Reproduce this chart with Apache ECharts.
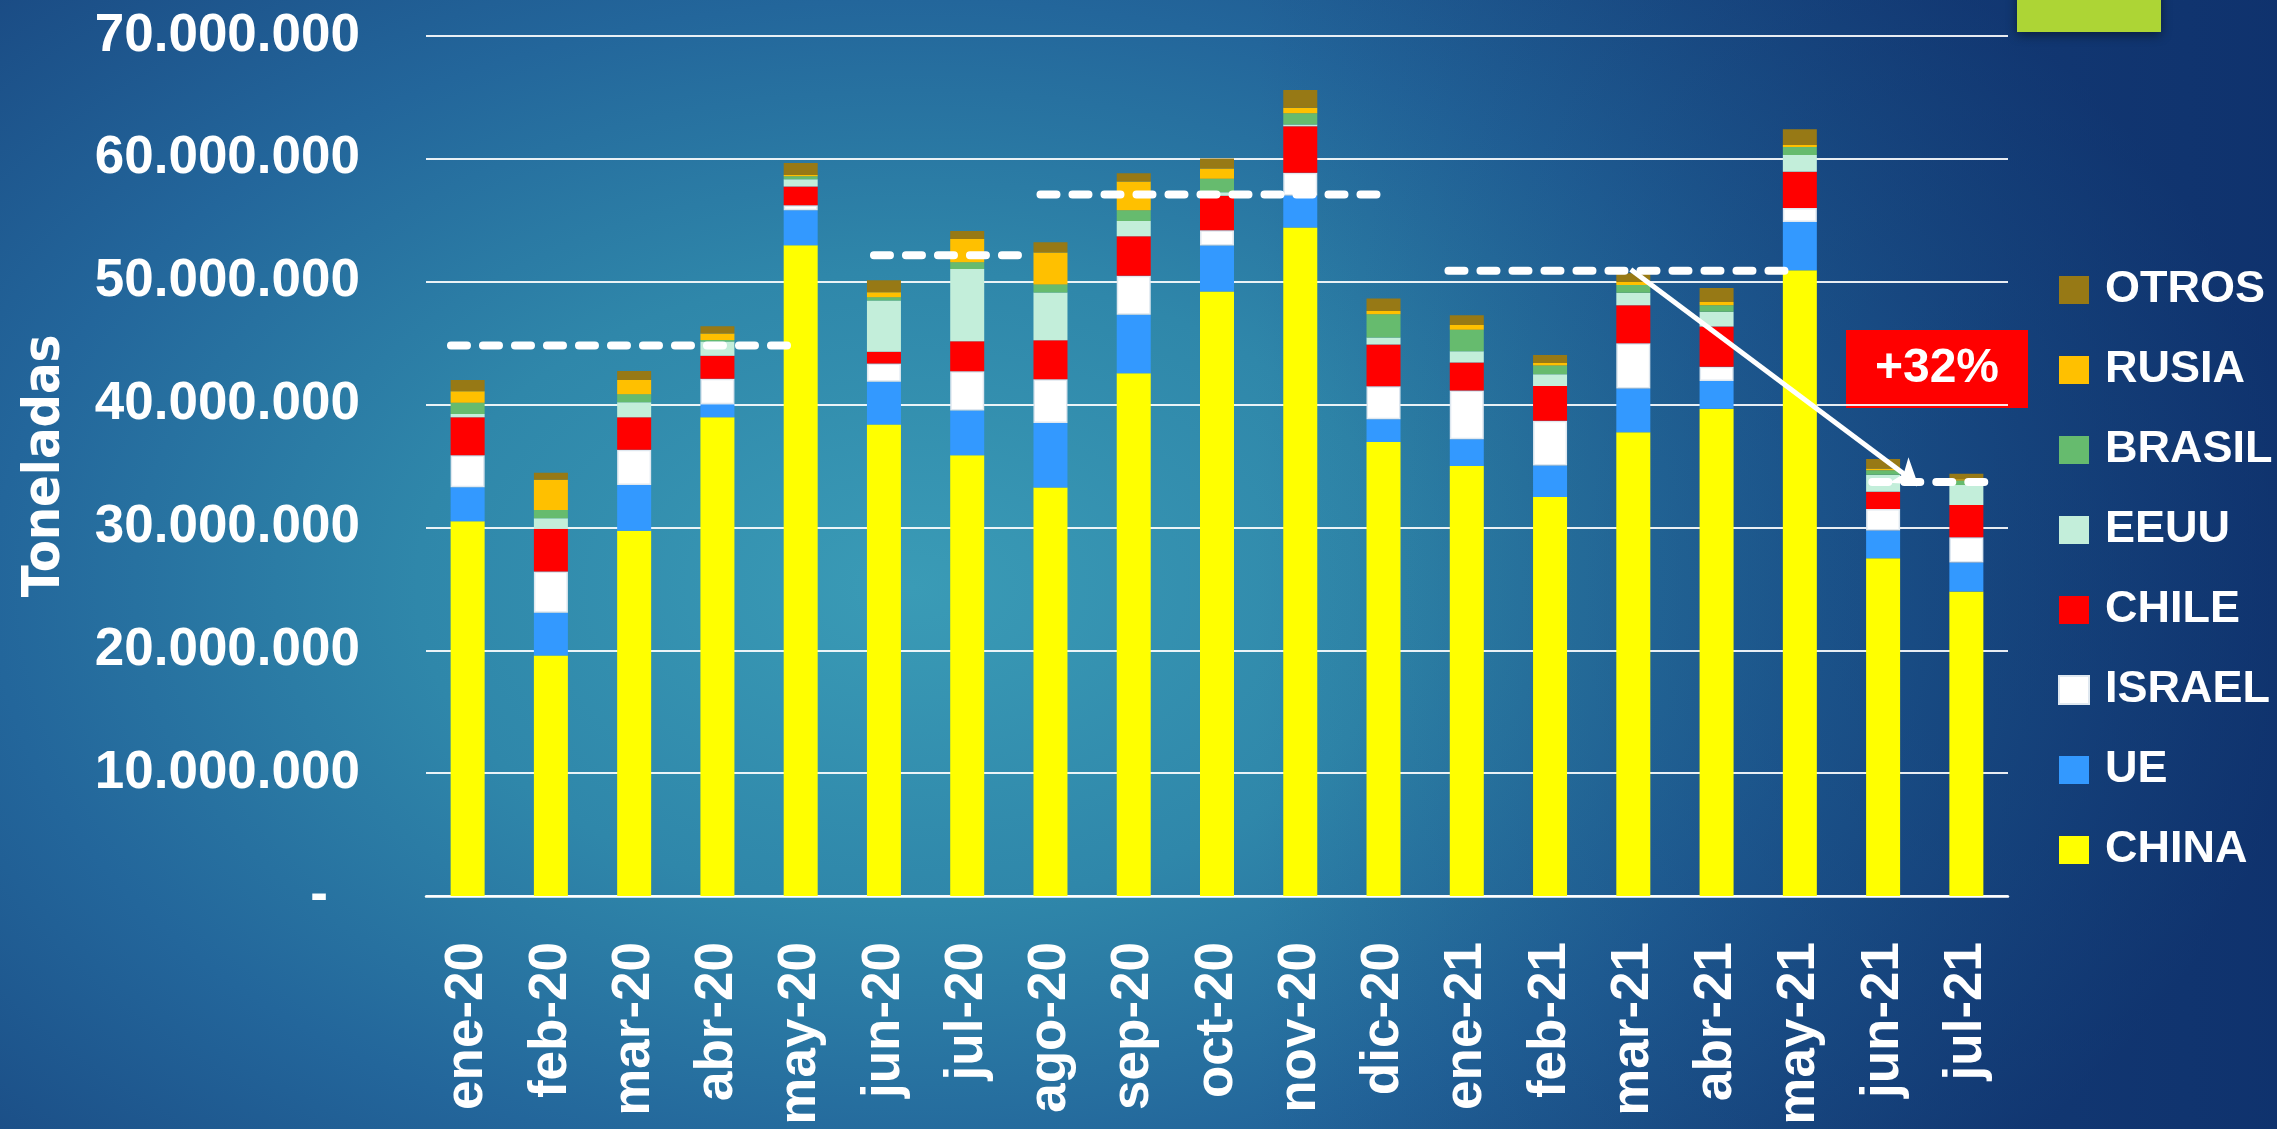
<!DOCTYPE html>
<html>
<head>
<meta charset="utf-8">
<script src="https://cdn.jsdelivr.net/npm/echarts@6/dist/echarts.min.js"></script>
<style>
  html, body { margin: 0; padding: 0; }
  #chart {
    width: 2277px;
    height: 1129px;
    background:
      linear-gradient(to right, rgba(8, 36, 96, 0) 55%, rgba(8, 36, 96, 0.55) 100%),
      radial-gradient(ellipse 62% 80% at 40% 52%, #3a9bb6 0%, #2f87aa 35%, #23669b 65%, #18447e 100%);
  }
</style>
</head>
<body>
<div id="chart"></div>
<script>
const meses = ['ene-20', 'feb-20', 'mar-20', 'abr-20', 'may-20', 'jun-20', 'jul-20', 'ago-20', 'sep-20', 'oct-20',
  'nov-20', 'dic-20', 'ene-21', 'feb-21', 'mar-21', 'abr-21', 'may-21', 'jun-21', 'jul-21']

// toneladas por destino
const china = [30500000, 19570000, 29720000, 38970000, 52970000, 38380000, 35880000, 33240000, 42550000, 49210000,
  54410000, 36950000, 35000000, 32470000, 37740000, 39670000, 50940000, 27500000, 24780000]
const ue = [2770000, 3480000, 3740000, 1050000, 2850000, 3470000, 3640000, 5250000, 4760000, 3740000,
  2600000, 1850000, 2170000, 2580000, 3560000, 2250000, 3930000, 2250000, 2360000]
const israel = [2610000, 3370000, 2860000, 2090000, 400000, 1490000, 3200000, 3570000, 3180000, 1240000,
  1860000, 2690000, 3970000, 3640000, 3700000, 1160000, 1140000, 1750000, 2060000]
const chile = [3090000, 3480000, 2650000, 1870000, 1520000, 950000, 2440000, 3180000, 3220000, 2810000,
  3790000, 3390000, 2290000, 2830000, 3090000, 3280000, 2950000, 1410000, 2620000]
const eeuu = [270000, 850000, 1210000, 1150000, 600000, 4180000, 5880000, 3880000, 1230000, 280000,
  130000, 580000, 920000, 940000, 1020000, 1190000, 1360000, 1380000, 1640000]
const brasil = [910000, 660000, 660000, 120000, 240000, 270000, 550000, 660000, 880000, 1100000,
  930000, 1900000, 1730000, 730000, 620000, 540000, 650000, 360000, 360000]
const rusia = [930000, 2480000, 1150000, 530000, 110000, 410000, 1890000, 2600000, 2340000, 840000,
  440000, 260000, 400000, 190000, 250000, 260000, 160000, 150000, 110000]
const otros = [910000, 560000, 740000, 600000, 980000, 970000, 650000, 840000, 660000, 800000,
  1450000, 1010000, 790000, 650000, 700000, 1130000, 1280000, 760000, 430000]

// promedios por periodo (líneas punteadas): [desde, hasta, nivel]
const promedios = [
  [-0.2, 3.93, 44800000],
  [4.88, 6.7, 52150000],
  [6.88, 11.0, 57100000],
  [11.78, 15.91, 50900000],
  [16.87, 18.23, 33700000]
]
const flecha = [[13.97, 51000000], [17.42, 33500000]]
const variacion = '+32%'

const font = '"Liberation Sans", Arial, sans-serif'

const destinos = [
  { name: 'CHINA', data: china, color: '#FFFF00' },
  { name: 'UE', data: ue, color: '#3399FF' },
  { name: 'ISRAEL', data: israel, color: '#FFFFFF' },
  { name: 'CHILE', data: chile, color: '#FF0000' },
  { name: 'EEUU', data: eeuu, color: '#C3EEDA' },
  { name: 'BRASIL', data: brasil, color: '#66BB6E' },
  { name: 'RUSIA', data: rusia, color: '#FFC000' },
  { name: 'OTROS', data: otros, color: '#977915' }
]

function miles(v) {
  return String(v).replace(/\B(?=(\d{3})+(?!\d))/g, '.')
}

const chart = echarts.init(document.getElementById('chart'))

const barras = destinos.map((d) => ({
  name: d.name,
  type: 'bar',
  stack: 'total',
  barWidth: 34,
  data: d.data,
  itemStyle: d.name === 'ISRAEL'
    ? { color: d.color, borderColor: '#dfe8f0', borderWidth: 1.5 }
    : { color: d.color },
  z: 2
}))

const punteadas = promedios.map((p) => ({
  type: 'line',
  xAxisIndex: 1,
  yAxisIndex: 0,
  data: [[p[0], p[2]], [p[1], p[2]]],
  symbol: 'none',
  silent: true,
  z: 5,
  lineStyle: { color: '#fff', width: 8, type: [16, 16], cap: 'round' }
}))

chart.setOption({
  animation: false,
  backgroundColor: 'transparent',
  grid: { left: 426, right: 269, top: 36, bottom: 233, containLabel: false },
  legend: {
    orient: 'vertical',
    left: 2058,
    top: 266,
    padding: 0,
    itemWidth: 30,
    itemHeight: 28,
    itemGap: 32,
    icon: 'rect',
    data: ['OTROS', 'RUSIA', 'BRASIL', 'EEUU', 'CHILE', 'ISRAEL', 'UE', 'CHINA'],
    textStyle: { color: '#fff', fontSize: 45, fontWeight: 'bold', fontFamily: font, lineHeight: 48, padding: [0, 0, 0, 11] }
  },
  xAxis: [
    {
      type: 'category',
      data: meses,
      axisLine: { lineStyle: { color: '#fff', width: 2.5 } },
      axisTick: { show: false },
      axisLabel: { color: '#fff', fontSize: 53, fontWeight: 'bold', fontFamily: font, rotate: 90, margin: 46, interval: 0 }
    },
    { type: 'value', min: -0.5, max: 18.5, show: false }
  ],
  yAxis: {
    type: 'value',
    min: 0,
    max: 70000000,
    interval: 10000000,
    name: 'Toneladas',
    nameLocation: 'middle',
    nameGap: 355,
    nameTextStyle: { color: '#fff', fontSize: 52, fontWeight: 'bold', fontFamily: '"DejaVu Sans Condensed", "Liberation Sans Narrow", sans-serif' },
    axisLine: { show: false },
    axisTick: { show: false },
    splitLine: { lineStyle: { color: 'rgba(255,255,255,0.9)', width: 2 } },
    axisLabel: {
      color: '#fff',
      fontSize: 53,
      fontWeight: 'bold',
      fontFamily: font,
      margin: 66,
      formatter: (v) => (v === 0 ? '{d|-}' : miles(v)),
      rich: { d: { color: '#fff', fontSize: 53, fontWeight: 'bold', fontFamily: font, padding: [0, 32, 0, 0] } }
    }
  },
  series: [
    ...barras,
    ...punteadas,
    {
      type: 'lines',
      coordinateSystem: 'cartesian2d',
      xAxisIndex: 1,
      yAxisIndex: 0,
      z: 6,
      silent: true,
      symbol: ['none', 'arrow'],
      symbolSize: [20, 24],
      lineStyle: { color: '#fff', width: 5, opacity: 1 },
      data: [{ coords: flecha }]
    }
  ],
  graphic: [
    {
      type: 'rect',
      shape: { x: 2017, y: -10, width: 144, height: 42 },
      style: { fill: '#ADD535', shadowBlur: 10, shadowColor: 'rgba(0,0,0,0.45)', shadowOffsetY: 3 },
      z: 10
    },
    {
      type: 'group',
      z: 10,
      children: [
        { type: 'rect', shape: { x: 1846, y: 330, width: 182, height: 78 }, style: { fill: '#FF0000' } },
        {
          type: 'text',
          x: 1937,
          y: 369,
          style: { text: variacion, fill: '#fff', font: 'bold 48px ' + font, align: 'center', verticalAlign: 'middle' }
        }
      ]
    }
  ]
})
</script>
</body>
</html>
